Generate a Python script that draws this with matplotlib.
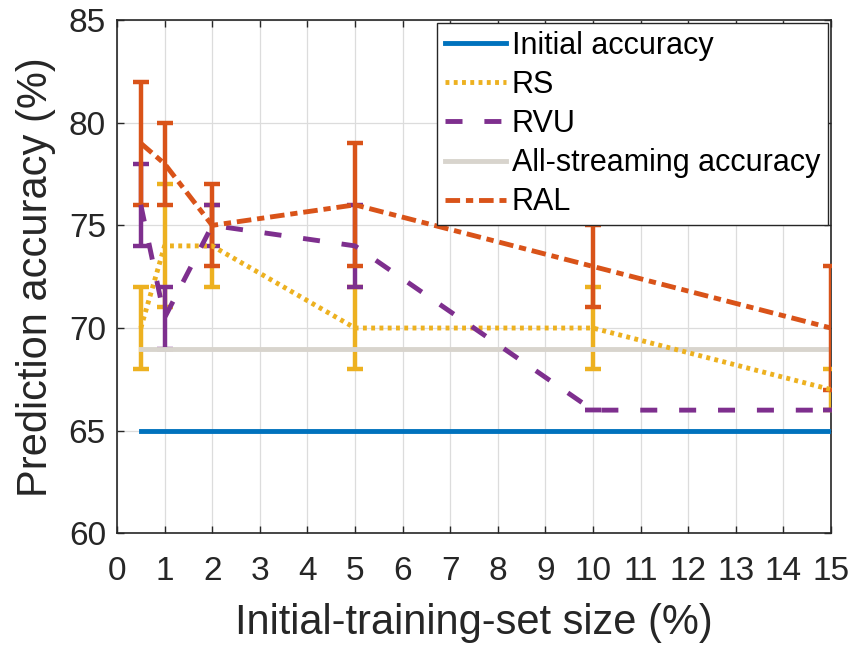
import matplotlib
matplotlib.use("Agg")
import matplotlib.pyplot as plt
from matplotlib.lines import Line2D

plt.rcParams["font.family"] = ["Liberation Sans", "DejaVu Sans"]

# Initial-training-set sizes (%)
sizes = [0.5, 1, 2, 5, 10, 15]

initial_acc = [65, 65, 65, 65, 65, 65]
all_stream_acc = [69, 69, 69, 69, 69, 69]

rs_mean = [70, 74, 74, 70, 70, 67]
rs_err = [2, 3, 2, 2, 2, 1]

rvu_mean = [76, 70.5, 75, 74, 66, 66]
rvu_err = [2, 1.5, 1, 2, 0, 0]

ral_mean = [79, 78, 75, 76, 73, 70]
ral_err = [3, 2, 2, 3, 2, 3]

C_BLUE = "#0072BD"
C_YELLOW = "#EDB120"
C_PURPLE = "#7E2F8E"
C_GRAY = "#D8D4CD"
C_ORANGE = "#D95319"

LS_RS = (0, (0.8, 0.9))
LS_RVU = (0, (3.5, 4.5))
LS_RAL = (0, (3, 1.2, 1.5, 1.2))

fig = plt.figure(figsize=(8.54, 6.48), dpi=100)
ax = fig.add_axes([0.137, 0.177, 0.836, 0.792])

lw = 3.5
eb = dict(elinewidth=3.2, capsize=6, capthick=3.2, zorder=3)
ax.plot(sizes, initial_acc, color=C_BLUE, lw=lw, zorder=3)
ax.errorbar(sizes, rs_mean, yerr=rs_err, color=C_YELLOW, lw=lw, ls=LS_RS, **eb)
ax.errorbar(sizes, rvu_mean, yerr=rvu_err, color=C_PURPLE, lw=lw, ls=LS_RVU, **eb)
ax.plot(sizes, all_stream_acc, color=C_GRAY, lw=lw, zorder=3)
ax.errorbar(sizes, ral_mean, yerr=ral_err, color=C_ORANGE, lw=lw, ls=LS_RAL, **eb)

ax.set_xlim(0, 15)
ax.set_ylim(60, 85)
ax.set_xticks(range(0, 16))
ax.set_yticks(range(60, 86, 5))
ax.grid(True, color="#DCDCDC", lw=0.9)
ax.set_axisbelow(True)
ax.tick_params(direction="in", top=True, right=True, length=5, width=1,
               colors="#262626", labelsize=24, pad=8)
ax.tick_params(axis="x", pad=16)
for s in ax.spines.values():
    s.set_color("#262626")
    s.set_linewidth(1.2)

ax.set_xlabel("Initial-training-set size (%)", fontsize=30, color="#262626", labelpad=12)
ax.set_ylabel("Prediction accuracy (%)", fontsize=30, color="#262626", labelpad=9)

# legend entries show plain line styles, no error bar glyphs
handles = [
    Line2D([], [], color=C_BLUE, lw=lw),
    Line2D([], [], color=C_YELLOW, lw=lw, ls=LS_RS),
    Line2D([], [], color=C_PURPLE, lw=lw, ls=LS_RVU),
    Line2D([], [], color=C_GRAY, lw=lw),
    Line2D([], [], color=C_ORANGE, lw=lw, ls=LS_RAL),
]
labels = ["Initial accuracy", "RS", "RVU", "All-streaming accuracy", "RAL"]
leg = ax.legend(handles, labels, loc="upper right", fontsize=22, fancybox=False,
                framealpha=1, edgecolor="#262626", borderaxespad=0.1,
                handlelength=2.0, handletextpad=0.2, labelspacing=0.3, borderpad=0.25)
leg.get_frame().set_linewidth(1.0)

fig.savefig("out.png", dpi=100)
